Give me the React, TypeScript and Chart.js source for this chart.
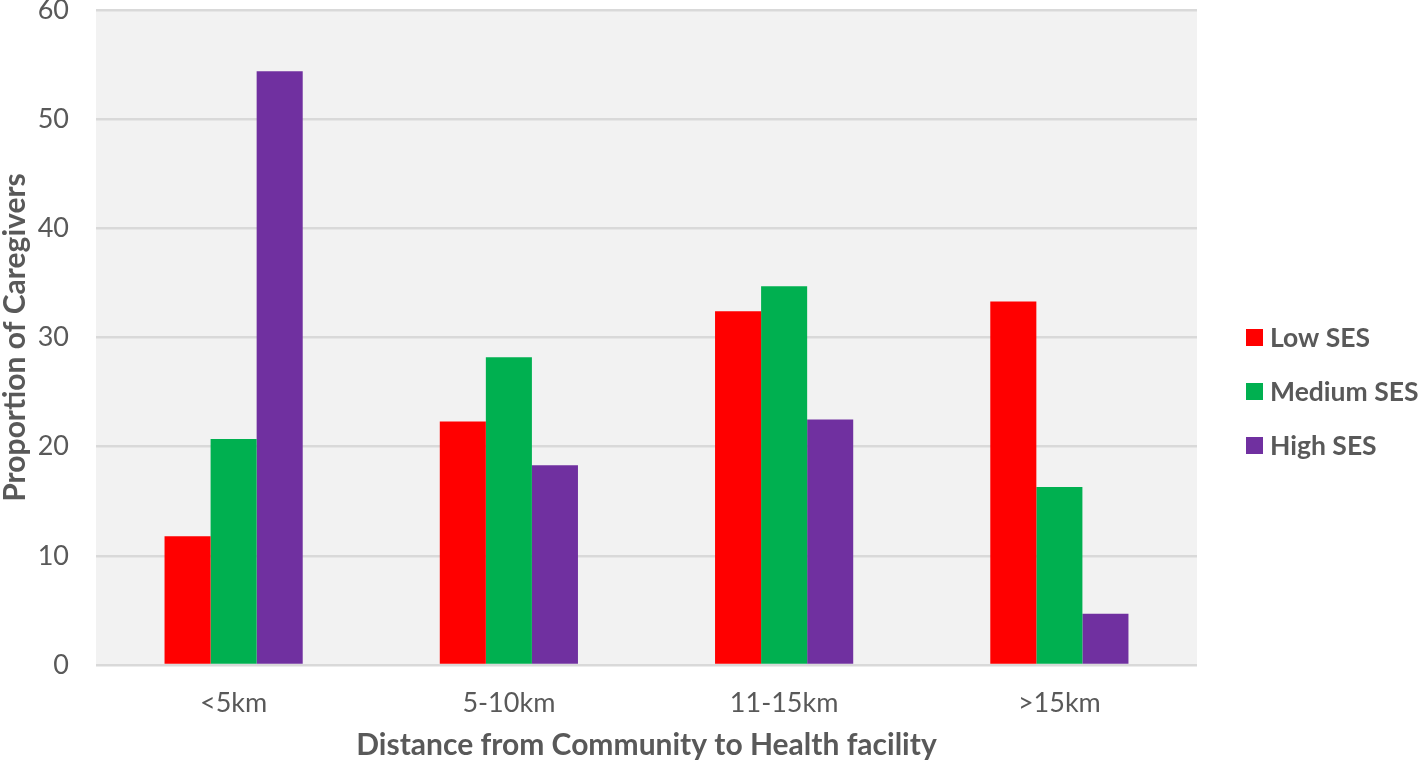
import React, { useEffect, useRef } from "react";
import { Chart, registerables } from "chart.js";

Chart.register(...registerables);

const categories = ["<5km", "5-10km", "11-15km", ">15km"];
const lowSES = [11.8, 22.3, 32.4, 33.3];
const mediumSES = [20.7, 28.2, 34.7, 16.3];
const highSES = [54.4, 18.3, 22.5, 4.7];
const seriesLabels = ["Low SES", "Medium SES", "High SES"];
const seriesColors = ["#FF0000", "#00B050", "#7030A0"];
const yTicks = [0, 10, 20, 30, 40, 50, 60];

const FONT = "Lato, 'Open Sans', sans-serif";
const TEXT = "#595959";

const plotBg = {
  id: "plotBg",
  beforeDraw(chart: any) {
    const { ctx, chartArea } = chart;
    ctx.save();
    ctx.fillStyle = "#F2F2F2";
    ctx.fillRect(chartArea.left, chartArea.top, chartArea.right - chartArea.left, chartArea.bottom - chartArea.top);
    ctx.restore();
  },
};

const sideLegend = {
  id: "sideLegend",
  afterDraw(chart: any) {
    const { ctx, chartArea } = chart;
    const ds = chart.data.datasets;
    const y0 = (chartArea.top + chartArea.bottom) / 2;
    const step = 54;
    const x = chartArea.right + 49;
    ctx.save();
    ctx.font = `bold 26.5px ${FONT}`;
    ctx.textBaseline = "middle";
    ctx.textAlign = "left";
    ds.forEach((d: any, i: number) => {
      const y = y0 + i * step;
      ctx.fillStyle = d.backgroundColor;
      ctx.fillRect(x, y - 8.5, 17, 17);
      ctx.fillStyle = TEXT;
      ctx.fillText(d.label, x + 24, y + 1);
    });
    ctx.restore();
  },
};

export default function App() {
  const ref = useRef<HTMLCanvasElement>(null);
  useEffect(() => {
    if (!ref.current) return;
    const chart = new Chart(ref.current, {
      type: "bar",
      data: {
        labels: categories,
        datasets: [lowSES, mediumSES, highSES].map((vals, i) => ({
          label: seriesLabels[i],
          data: vals,
          backgroundColor: seriesColors[i],
          borderWidth: 0,
          barPercentage: 1,
          categoryPercentage: 0.502,
        })),
      },
      options: {
        responsive: false,
        animation: false,
        layout: { padding: { top: 10, right: 221, left: 0, bottom: 0 } },
        plugins: {
          legend: { display: false },
          tooltip: { enabled: false },
        },
        scales: {
          x: {
            grid: { display: false },
            border: { display: false },
            ticks: { color: TEXT, font: { family: FONT, size: 27 }, padding: 14 },
            title: {
              display: true,
              text: "Distance from Community to Health facility",
              color: TEXT,
              font: { family: FONT, size: 30, weight: "bold", lineHeight: 1 },
              padding: { top: 0, bottom: 5 },
            },
            afterFit(scale: any) {
              scale.height = 100;
            },
          },
          y: {
            min: 0,
            max: 60,
            afterBuildTicks(scale: any) {
              scale.ticks = yTicks.map((v) => ({ value: v }));
            },
            grid: { color: "#D9D9D9", lineWidth: 2.5, drawTicks: false },
            border: { display: false },
            ticks: { color: TEXT, font: { family: FONT, size: 27 }, padding: 27 },
            title: {
              display: true,
              text: "Proportion of Caregivers",
              color: TEXT,
              font: { family: FONT, size: 30, weight: "bold", lineHeight: 1 },
              padding: { top: 0, bottom: 0 },
            },
            afterFit(scale: any) {
              scale.width = 96;
              scale.paddingTop = 0;
              scale.paddingBottom = 0;
            },
          },
        },
      } as any,
      plugins: [plotBg, sideLegend],
    });
    return () => chart.destroy();
  }, []);
  return (
    <div style={{ position: "absolute", left: 0, top: 0, width: 1418, height: 765, background: "#fff" }}>
      <canvas ref={ref} width={1418} height={765} style={{ display: "block" }} />
    </div>
  );
}
